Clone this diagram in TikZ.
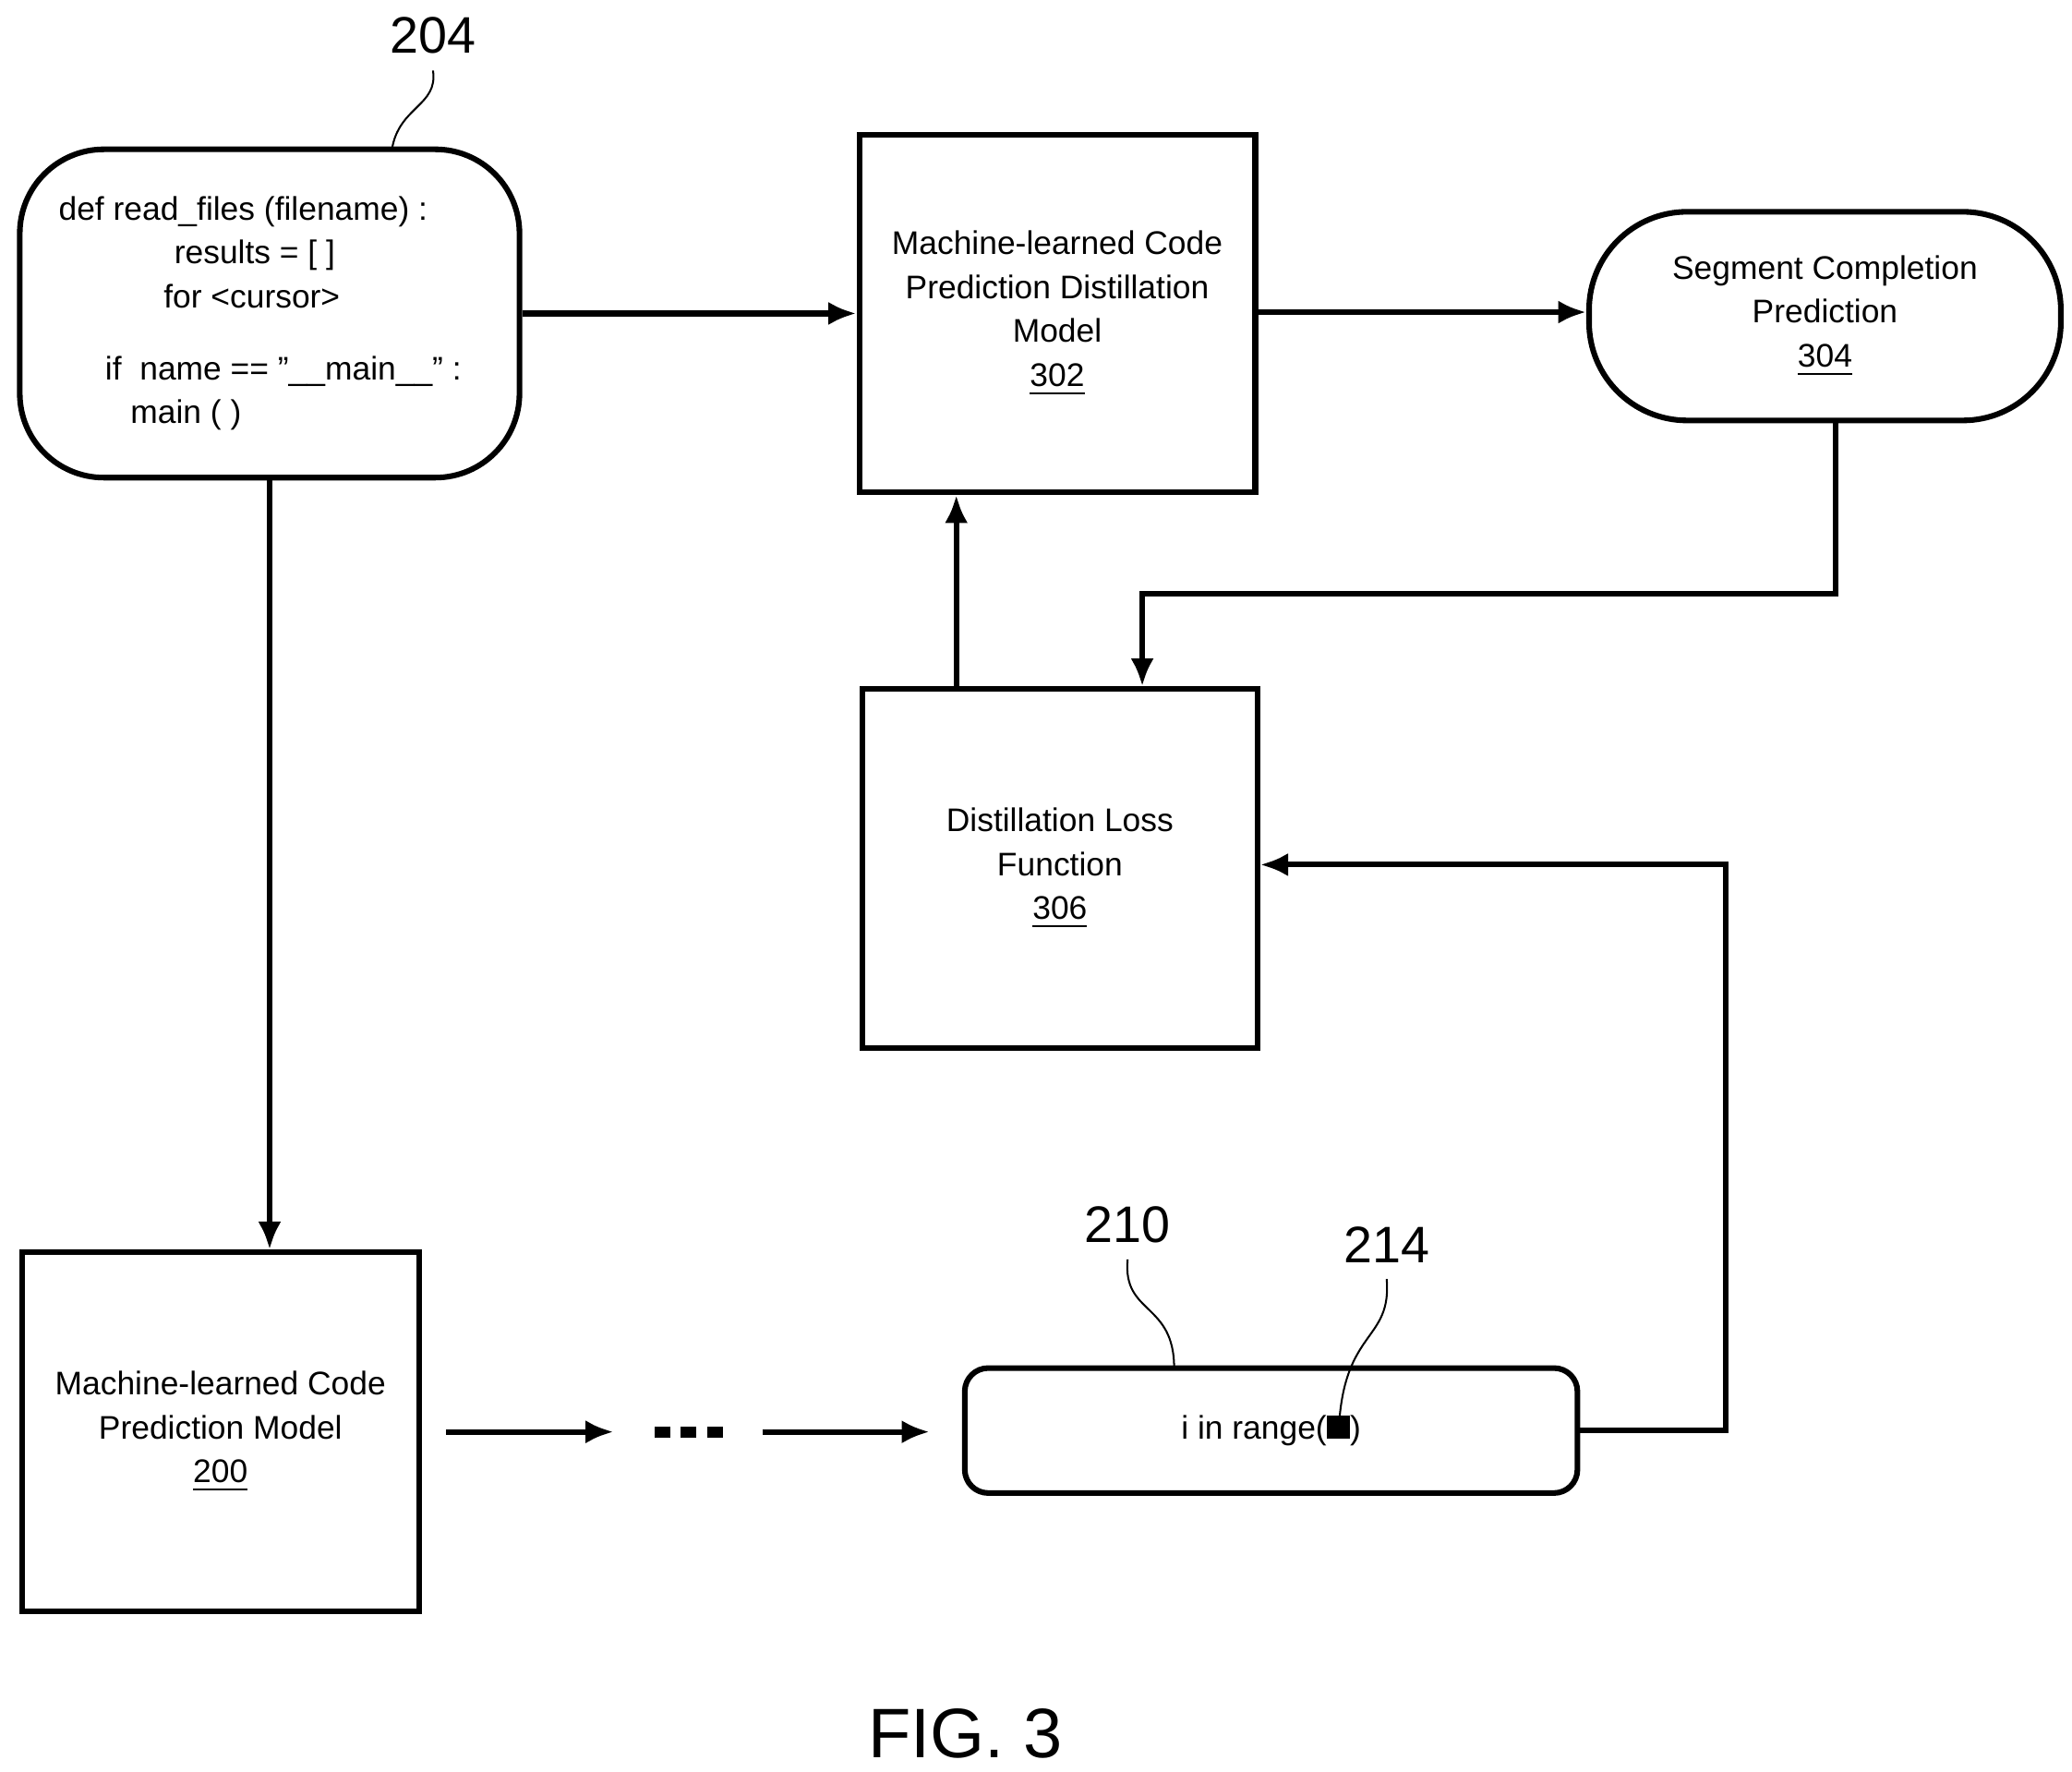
\documentclass[tikz,border=0pt]{standalone}
\usepackage{fontspec}
\setmainfont{Liberation Sans}
\usetikzlibrary{arrows.meta}
\begin{document}
\begin{tikzpicture}[x=0.01cm, y=-0.01cm, font=\fontsize{7}{9.4}\selectfont,
Block/.style={draw, very thick, align=center, inner sep=0pt},
Arr/.style={-{Latex[length=6pt,width=5pt]}, very thick},
Lead/.style={thin}]
\useasboundingbox (0,0) rectangle (1560,1334);

\node[Block, rounded corners=18pt, minimum width=3.76cm, minimum height=2.47cm, align=left] (code) at (203,236) {%
\hspace*{0.2cm}def read\_files (filename) :\\
\hspace*{1.07cm}results = [ ]\\
\hspace*{0.99cm}for <cursor>\\[6pt]
\hspace*{0.55cm}if \ name == "\_\_main\_\_" :\\
\hspace*{0.74cm}main ( )\hspace*{2cm}};
\node[Block, minimum width=2.98cm, minimum height=2.69cm] (distil) at (796,236) {Machine-learned Code\\Prediction Distillation\\Model\\\underline{302}};
\node[Block, rounded corners=21pt, minimum width=3.55cm, minimum height=1.57cm] (pred) at (1374,238) {Segment Completion\\Prediction\\\underline{304}};
\node[Block, minimum width=2.97cm, minimum height=2.7cm] (loss) at (798,654) {Distillation Loss\\Function\\\underline{306}};
\node[Block, minimum width=2.99cm, minimum height=2.7cm] (model) at (166,1078) {Machine-learned Code\\Prediction Model\\\underline{200}};
\node[Block, rounded corners=5pt, minimum width=4.61cm, minimum height=0.94cm] (seg) at (957,1077) {i in range(\rule{5pt}{5pt})};

\node[font=\fontsize{11}{13}\selectfont] (l204) at (326,27) {204};
\node[font=\fontsize{11}{13}\selectfont] (l210) at (849,922) {210};
\node[font=\fontsize{11}{13}\selectfont] (l214) at (1044,937) {214};
\node[font=\fontsize{15}{17}\selectfont] (fig) at (727,1305) {FIG. 3};

\coordinate (dotsL) at (462,1078);
\coordinate (dotsR) at (574,1078);
\coordinate (segin) at (700,1078);

\draw[Lead] (l204.south) .. controls (330,80) and (300,80) .. (295,113);
\draw[Lead] (l210.south) .. controls (845,990) and (884,980) .. (884,1030);
\draw[Lead] (l214.south) .. controls (1048,1010) and (1012,1000) .. (1008,1075);

\draw[Arr] (code.east) -- (distil.west);
\draw[Arr] (distil.east |- 0,235) -- (pred.west |- 0,235);
\draw[Arr] (pred.south -| 1382,0) |- (860,447) -- (loss.north -| 860,0);
\draw[Arr] (loss.north -| 720,0) -- (distil.south -| 720,0);
\draw[Arr] (seg.east) -| (1299,651) -- (loss.east |- 0,651);
\draw[Arr] (code.south -| 203,0) -- (model.north -| 203,0);
\draw[Arr] (336,1078) -- (dotsL);
\draw[line width=2.4pt, dash pattern=on 3.3pt off 2.3pt] (493,1078) -- (547,1078);
\draw[Arr] (dotsR) -- (segin);
\end{tikzpicture}
\end{document}
